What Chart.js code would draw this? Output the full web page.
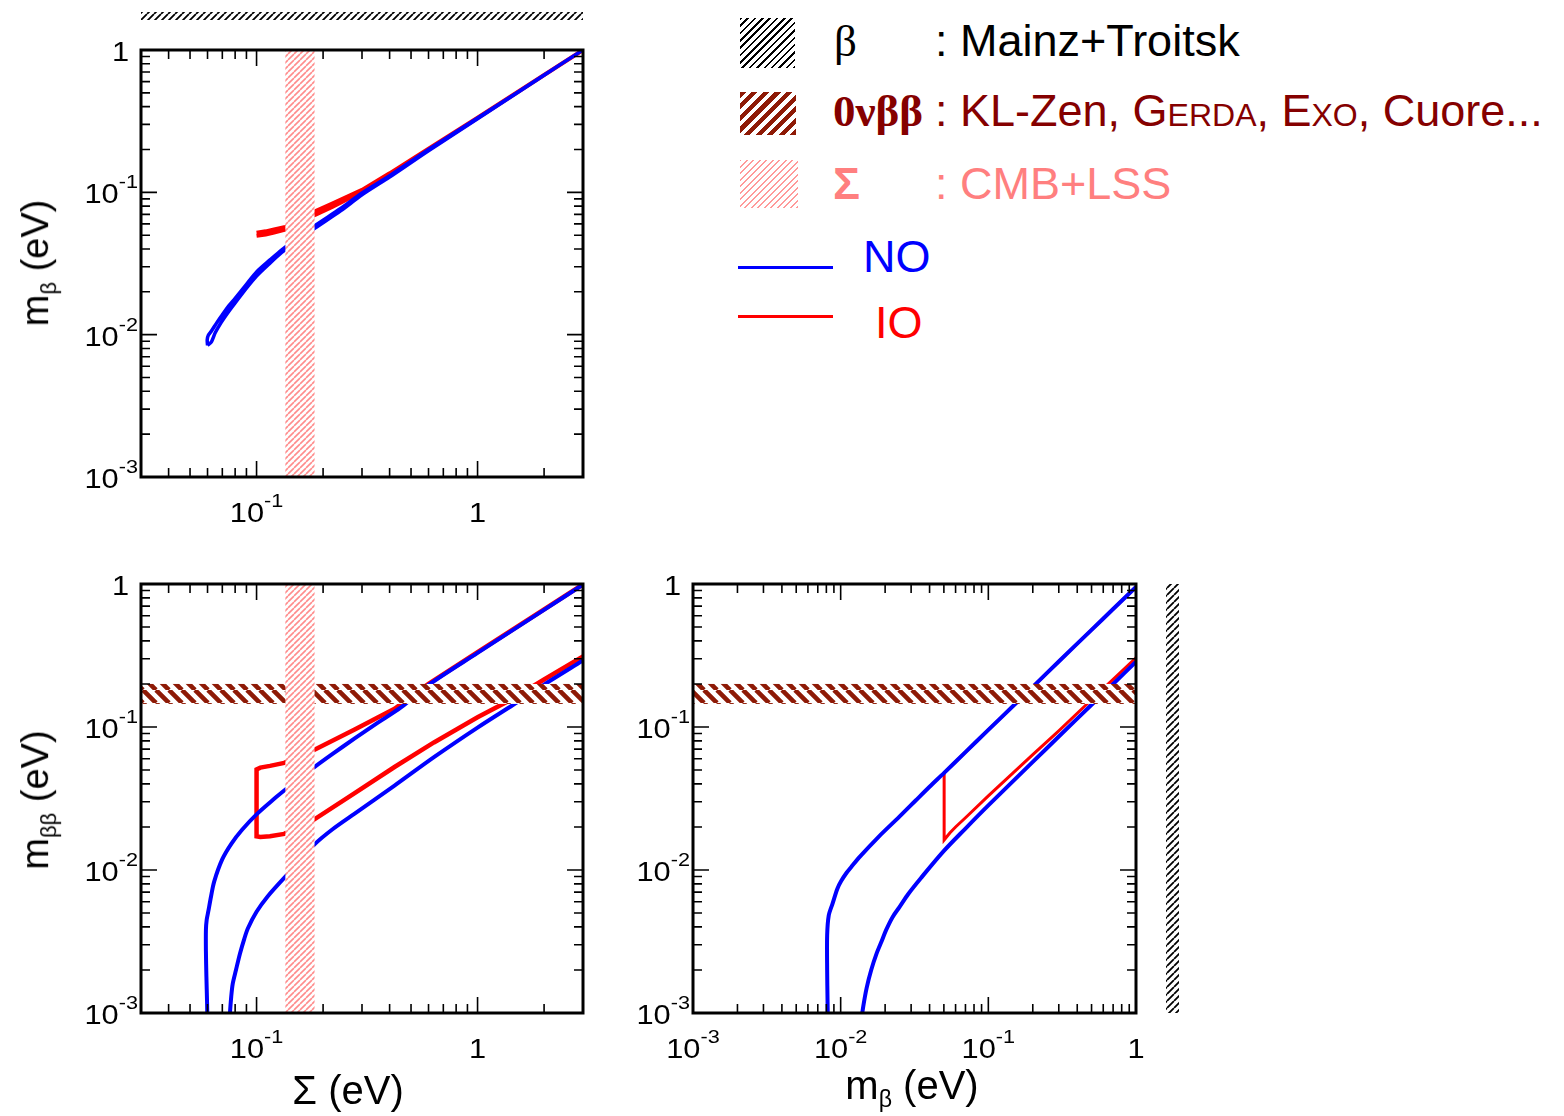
<!DOCTYPE html>
<html>
<head>
<meta charset="utf-8">
<title>m_beta, m_betabeta and Sigma</title>
<script src="https://cdn.jsdelivr.net/npm/chart.js@4.4.1/dist/chart.umd.min.js"></script>
<style>
  body { margin: 0; background: #fff; font-family: 'Liberation Sans', Arial, sans-serif; }
  #page { position: relative; width: 1564px; height: 1116px; overflow: hidden; }
  canvas { position: absolute; }
  .txt { position: absolute; white-space: nowrap; line-height: 1; }
  .ytitle { font-size: 38px; transform: translate(-50%, -50%) rotate(-90deg); }
  .xtitle { font-size: 40px; transform: translate(-50%, -50%); }
  .txt sub { font-size: 58%; vertical-align: -0.35em; }
  .leg { font-size: 45px; }
  .sym { font-family: 'Liberation Serif', 'Times New Roman', serif; }
  .sw { position: absolute; }
</style>
</head>
<body>
<div id="page">
  <canvas id="cTop" width="640" height="550" style="left:0;top:0"></canvas>
  <canvas id="cLeft" width="620" height="556" style="left:0;top:560px"></canvas>
  <canvas id="cRight" width="600" height="556" style="left:600px;top:560px"></canvas>

  <div class="txt ytitle" style="left:38px;top:263px">m<sub>β</sub> (eV)</div>
  <div class="txt ytitle" style="left:38px;top:800px">m<sub>ββ</sub> (eV)</div>
  <div class="txt xtitle" style="left:348px;top:1090px">Σ (eV)</div>
  <div class="txt xtitle" style="left:912px;top:1088px">m<sub>β</sub> (eV)</div>

  <!-- legend -->
  <div class="sw" style="left:740px;top:18px;width:55px;height:50px;background:repeating-linear-gradient(-45deg,#000 0 1.8px,#fff 1.8px 5.2px)"></div>
  <div class="txt leg sym" style="left:834px;top:19px;color:#000">β</div>
  <div class="txt leg" style="left:935px;top:18px;color:#000">: Mainz+Troitsk</div>

  <div class="sw" style="left:740px;top:92px;width:56px;height:43px;background:repeating-linear-gradient(-45deg,#8e1a06 0 4.3px,#fff 4.3px 8.2px)"></div>
  <div class="txt leg sym" style="left:833px;top:89px;color:#850000;font-weight:bold">0νββ</div>
  <div class="txt leg" style="left:935px;top:88px;color:#850000">: KL-Zen, <span style="font-variant:small-caps">Gerda</span>, <span style="font-variant:small-caps">Exo</span>, Cuore...</div>

  <div class="sw" style="left:740px;top:160px;width:58px;height:48px;background:repeating-linear-gradient(-45deg,#ff9a9a 0 1.6px,#fff 1.6px 4.6px)"></div>
  <div class="txt leg" style="left:833px;top:161px;color:#ff7f7f;font-weight:bold">Σ</div>
  <div class="txt leg" style="left:935px;top:161px;color:#ff7f7f">: CMB+LSS</div>

  <div class="sw" style="left:738px;top:266px;width:95px;height:3px;background:#0000ff"></div>
  <div class="txt leg" style="left:863px;top:234px;color:#0000ff">NO</div>
  <div class="sw" style="left:738px;top:315px;width:95px;height:3px;background:#ff0000"></div>
  <div class="txt leg" style="left:875px;top:300px;color:#ff0000">IO</div>
</div>

<script>
// ---- axis ranges and tick labels ----
const sigmaRange = [0.03, 3]
const massRange = [0.001, 1]
const decadeValues = [0.001, 0.01, 0.1, 1]
const decadeBase = ['10', '10', '10', '1']
const decadeExp = ['-3', '-2', '-1', '']

// ---- experimental constraints ----
const sigmaBand = [0.135, 0.183] // CMB+LSS on Sigma
const mbbBand = [0.145, 0.2] // 0vbb on m_bb

// ---- top: Sigma vs m_beta (closed contours) ----
const tlNOSigma = [0.0600, 0.0598, 0.0605, 0.0625, 0.066, 0.070, 0.075, 0.080, 0.090, 0.100, 0.115, 0.130, 0.150, 0.184, 0.240, 0.300, 0.400, 0.600, 1.00, 1.50, 2.00, 3.00,
  2.00, 1.00, 0.600, 0.400, 0.300, 0.240, 0.184, 0.150, 0.130, 0.115, 0.100, 0.090, 0.080, 0.074, 0.069, 0.065, 0.0625, 0.0600]
const tlNOMb = [0.0084, 0.0092, 0.0099, 0.0106, 0.0121, 0.0138, 0.0160, 0.0180, 0.0226, 0.0276, 0.0335, 0.0395, 0.0465, 0.0585, 0.077, 0.099, 0.131, 0.200, 0.333, 0.500, 0.667, 1.00,
  0.665, 0.328, 0.196, 0.128, 0.096, 0.074, 0.0560, 0.0448, 0.0378, 0.0318, 0.0258, 0.0212, 0.0167, 0.0142, 0.0121, 0.0103, 0.0089, 0.0084]
const tlIOSigma = [0.100, 0.110, 0.120, 0.135, 0.150, 0.184, 0.220, 0.300, 0.400, 0.600, 1.00, 2.00, 3.00,
  2.00, 1.00, 0.600, 0.400, 0.300, 0.220, 0.184, 0.150, 0.135, 0.120, 0.110, 0.100]
const tlIOMb = [0.0520, 0.0532, 0.0548, 0.0572, 0.0605, 0.0735, 0.0835, 0.104, 0.136, 0.203, 0.335, 0.668, 1.00,
  0.666, 0.333, 0.200, 0.133, 0.101, 0.079, 0.0695, 0.058, 0.0548, 0.0522, 0.0505, 0.0495]

// ---- bottom left: Sigma vs m_bb ----
const blNOmaxSigma = [0.0600, 0.0597, 0.0593, 0.0590, 0.0590, 0.0595, 0.0605, 0.0622, 0.0643, 0.0700, 0.0770, 0.0860, 0.100, 0.122, 0.1334, 0.182, 0.220, 0.278, 0.350, 0.450, 0.600, 1.00, 2.00, 3.00]
const blNOmaxMbb = [0.0008, 0.0012, 0.0018, 0.0027, 0.0038, 0.0045, 0.00515, 0.0065, 0.0083, 0.0119, 0.0153, 0.0191, 0.0245, 0.0321, 0.0360, 0.0522, 0.0646, 0.0832, 0.106, 0.137, 0.197, 0.330, 0.660, 0.990]
const blNOminSigma = [0.0752, 0.0758, 0.0768, 0.0780, 0.0807, 0.0841, 0.0880, 0.0913, 0.100, 0.112, 0.1334, 0.160, 0.182, 0.220, 0.278, 0.421, 0.635, 1.00, 1.45, 2.00, 3.00]
const blNOminMbb = [0.0008, 0.0010, 0.0013, 0.0016, 0.0020, 0.0026, 0.0033, 0.0039, 0.0051, 0.0065, 0.0088, 0.0118, 0.0150, 0.0192, 0.0248, 0.0389, 0.0615, 0.099, 0.143, 0.198, 0.292]
const blIOSigma = [3.00, 2.00, 1.00, 0.600, 0.421, 0.278, 0.182, 0.1334, 0.115, 0.104, 0.100, 0.100, 0.104, 0.115, 0.1334, 0.182, 0.278, 0.421, 0.635, 1.00, 1.36, 2.00, 3.00]
const blIOMbb = [0.995, 0.665, 0.334, 0.200, 0.134, 0.096, 0.069, 0.0561, 0.0535, 0.0520, 0.0505, 0.0172, 0.0170, 0.0172, 0.0179, 0.0225, 0.0345, 0.0525, 0.078, 0.117, 0.150, 0.215, 0.312]

// ---- bottom right: m_beta vs m_bb ----
const brNOmaxMb = [0.0082, 0.00815, 0.0081, 0.0081, 0.0083, 0.0088, 0.0095, 0.0101, 0.0110, 0.0118, 0.0135, 0.018, 0.025, 0.0322, 0.040, 0.0502, 0.070, 0.100, 0.150, 0.200, 0.300, 0.500, 0.700, 1.00]
const brNOmaxMbb = [0.0008, 0.0012, 0.0020, 0.0035, 0.0048, 0.0058, 0.0074, 0.0084, 0.0096, 0.0105, 0.0124, 0.0170, 0.0236, 0.0306, 0.0382, 0.0478, 0.0668, 0.0955, 0.143, 0.191, 0.287, 0.478, 0.668, 0.955]
const brNOminMb = [0.0136, 0.0142, 0.0150, 0.0161, 0.0175, 0.0190, 0.0203, 0.0225, 0.0250, 0.0287, 0.035, 0.050, 0.070, 0.100, 0.200, 0.300, 0.500, 0.700, 1.00]
const brNOminMbb = [0.0008, 0.0011, 0.0015, 0.0020, 0.0026, 0.0032, 0.0038, 0.0047, 0.0055, 0.0068, 0.0088, 0.0136, 0.0195, 0.0283, 0.057, 0.0858, 0.143, 0.200, 0.286]
const brIOMb = [1.00, 0.700, 0.500, 0.300, 0.200, 0.150, 0.100, 0.070, 0.0502, 0.0502, 0.055, 0.060, 0.070, 0.100, 0.200, 0.300, 0.460, 0.650, 1.00]
const brIOMbb = [0.955, 0.668, 0.478, 0.287, 0.191, 0.143, 0.0955, 0.0668, 0.0478, 0.0162, 0.0182, 0.0200, 0.0232, 0.0330, 0.0640, 0.0940, 0.143, 0.200, 0.305]

const BLUE = '#0000ff'
const RED = '#ff0000'
const FONT = "'Liberation Sans', Arial, sans-serif"

Chart.defaults.font.family = FONT
Chart.defaults.color = '#000'

function pts(xs, ys) {
  return xs.map((x, i) => ({ x: x, y: ys[i] }))
}

function line(label, xs, ys, color, width, tension) {
  return {
    label: label,
    data: pts(xs, ys),
    showLine: true,
    borderColor: color,
    borderWidth: width,
    pointRadius: 0,
    fill: false,
    tension: tension || 0,
  }
}

function decadeIndex(v) {
  return decadeValues.findIndex((d) => Math.abs(Math.log10(v / d)) < 1e-6)
}

// minor/major tick positions 1..9 x 10^n inside the range
function logTicks(range) {
  const out = []
  for (let e = -4; e <= 1; e++) {
    for (let k = 1; k <= 9; k++) {
      const v = k * Math.pow(10, e)
      if (v >= range[0] * 0.999 && v <= range[1] * 1.001) out.push({ value: v })
    }
  }
  return out
}

function stripeTile(color, size, width, dir) {
  const c = document.createElement('canvas')
  c.width = size
  c.height = size
  const g = c.getContext('2d')
  g.fillStyle = '#fff'
  g.fillRect(0, 0, size, size)
  g.strokeStyle = color
  g.lineWidth = width
  g.beginPath()
  for (let k = -1; k <= 1; k++) {
    if (dir === '/') {
      g.moveTo(k * size, size)
      g.lineTo(k * size + size, 0)
    } else {
      g.moveTo(k * size, 0)
      g.lineTo(k * size + size, size)
    }
  }
  g.stroke()
  return c
}

const tiles = {
  pink: stripeTile('rgba(255,120,120,0.85)', 6, 1.6, '/'),
  darkred: stripeTile('#8e1a06', 13, 4.6, '\\'),
  black: stripeTile('#000', 7, 1.8, '/'),
}

// hatched constraint bands, painted over the curves
const hatchPlugin = {
  id: 'hatch',
  afterDatasetsDraw(chart, args, opts) {
    const { ctx, chartArea: a, scales } = chart
    ctx.save()
    ;(opts.items || []).forEach((b) => {
      let x0 = a.left
      let x1 = a.right
      let y0 = a.top
      let y1 = a.bottom
      if (b.axis === 'x') {
        x0 = scales.x.getPixelForValue(b.range[0])
        x1 = scales.x.getPixelForValue(b.range[1])
      } else {
        y0 = scales.y.getPixelForValue(b.range[1])
        y1 = scales.y.getPixelForValue(b.range[0])
      }
      ctx.fillStyle = ctx.createPattern(tiles[b.pattern], 'repeat')
      ctx.fillRect(x0, y0, x1 - x0, y1 - y0)
    })
    // beta-decay limit lies beyond the plotted range: marked outside the frame
    if (opts.outer === 'top') {
      ctx.fillStyle = ctx.createPattern(tiles.black, 'repeat')
      ctx.fillRect(a.left, a.top - 38, a.right - a.left, 8)
    } else if (opts.outer === 'right') {
      ctx.fillStyle = ctx.createPattern(tiles.black, 'repeat')
      ctx.fillRect(a.right + 30, a.top, 13, a.bottom - a.top)
    }
    ctx.restore()
  },
}

// "10" with a raised exponent, slightly widened like the original lettering
function powerLabel(ctx, i, x, baseline, align) {
  const sx = 1.14
  ctx.font = '27px ' + FONT
  const wb = ctx.measureText(decadeBase[i]).width * sx
  ctx.font = '19px ' + FONT
  const we = decadeExp[i] ? ctx.measureText(decadeExp[i]).width * sx : 0
  const total = wb + we
  const left = align === 'center' ? x - total / 2 : x - total
  ctx.save()
  ctx.translate(left, baseline)
  ctx.scale(sx, 1)
  ctx.font = '27px ' + FONT
  ctx.fillText(decadeBase[i], 0, 0)
  if (decadeExp[i]) {
    ctx.font = '19px ' + FONT
    ctx.fillText(decadeExp[i], wb / sx, -15)
  }
  ctx.restore()
}

// frame with inward ticks on all four sides, decade labels outside
const framePlugin = {
  id: 'frame',
  afterDraw(chart) {
    const { ctx, chartArea: a, scales } = chart
    ctx.save()
    ctx.strokeStyle = '#000'
    ctx.lineWidth = 1.6
    ctx.beginPath()
    scales.x.ticks.forEach((t) => {
      const px = scales.x.getPixelForValue(t.value)
      const len = decadeIndex(t.value) >= 0 ? 16 : 9
      ctx.moveTo(px, a.bottom)
      ctx.lineTo(px, a.bottom - len)
      ctx.moveTo(px, a.top)
      ctx.lineTo(px, a.top + len)
    })
    scales.y.ticks.forEach((t) => {
      const py = scales.y.getPixelForValue(t.value)
      const len = decadeIndex(t.value) >= 0 ? 16 : 9
      ctx.moveTo(a.left, py)
      ctx.lineTo(a.left + len, py)
      ctx.moveTo(a.right, py)
      ctx.lineTo(a.right - len, py)
    })
    ctx.stroke()
    ctx.lineWidth = 3
    ctx.strokeRect(a.left, a.top, a.right - a.left, a.bottom - a.top)

    ctx.fillStyle = '#000'
    ctx.textBaseline = 'alphabetic'
    ctx.textAlign = 'left'
    scales.x.ticks.forEach((t) => {
      const i = decadeIndex(t.value)
      if (i >= 0) powerLabel(ctx, i, scales.x.getPixelForValue(t.value), a.bottom + 45, 'center')
    })
    scales.y.ticks.forEach((t) => {
      const i = decadeIndex(t.value)
      if (i >= 0) powerLabel(ctx, i, a.left - (decadeExp[i] ? 3 : 12), scales.y.getPixelForValue(t.value) + 11, 'right')
    })
    ctx.restore()
  },
}

function panel(id, frame, xRange, datasets, bands, outer) {
  const canvas = document.getElementById(id)
  const W = canvas.width
  const H = canvas.height
  return new Chart(canvas, {
    type: 'scatter',
    data: { datasets: datasets },
    plugins: [hatchPlugin, framePlugin],
    options: {
      responsive: false,
      animation: false,
      layout: { padding: { left: 0, top: frame.t, right: W - frame.r, bottom: 0 } },
      plugins: {
        legend: { display: false },
        tooltip: { enabled: false },
        hatch: { items: bands, outer: outer },
      },
      scales: {
        x: {
          type: 'logarithmic',
          min: xRange[0],
          max: xRange[1],
          grid: { display: false, drawTicks: false },
          border: { display: false },
          afterBuildTicks: (s) => { s.ticks = logTicks(xRange) },
          afterFit: (s) => { s.height = H - frame.b },
          ticks: { display: false, autoSkip: false },
        },
        y: {
          type: 'logarithmic',
          min: massRange[0],
          max: massRange[1],
          grid: { display: false, drawTicks: false },
          border: { display: false },
          afterBuildTicks: (s) => { s.ticks = logTicks(massRange) },
          afterFit: (s) => { s.width = frame.l },
          ticks: { display: false, autoSkip: false },
        },
      },
    },
  })
}

// earlier datasets are drawn on top: NO first so it covers IO where they coincide
panel('cTop', { l: 141, t: 50, r: 583, b: 477 }, sigmaRange, [
  line('NO', tlNOSigma, tlNOMb, BLUE, 3.5, 0.25),
  line('IO', tlIOSigma, tlIOMb, RED, 4),
], [
  { axis: 'x', range: sigmaBand, pattern: 'pink' },
], 'top')

panel('cLeft', { l: 141, t: 24, r: 583, b: 453 }, sigmaRange, [
  line('NO max', blNOmaxSigma, blNOmaxMbb, BLUE, 4, 0.3),
  line('NO min', blNOminSigma, blNOminMbb, BLUE, 4, 0.3),
  line('IO', blIOSigma, blIOMbb, RED, 4.5),
], [
  { axis: 'y', range: mbbBand, pattern: 'darkred' },
  { axis: 'x', range: sigmaBand, pattern: 'pink' },
], null)

panel('cRight', { l: 93, t: 24, r: 536, b: 453 }, massRange, [
  line('NO max', brNOmaxMb, brNOmaxMbb, BLUE, 4, 0.3),
  line('NO min', brNOminMb, brNOminMbb, BLUE, 4, 0.3),
  line('IO', brIOMb, brIOMbb, RED, 3),
], [
  { axis: 'y', range: mbbBand, pattern: 'darkred' },
], 'right')
</script>
</body>
</html>
